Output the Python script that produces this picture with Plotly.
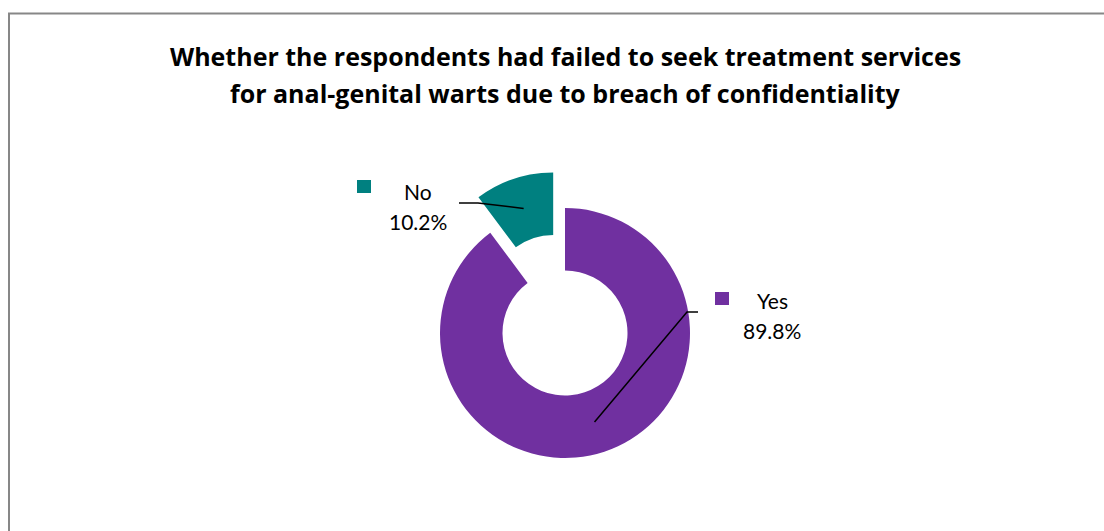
import math
import plotly.graph_objects as go

# Survey answers
labels = ["Yes", "No"]
values = [89.8, 10.2]
colors = ["#7030A0", "#008080"]
pulls = [0.0, 0.3]
hole = 0.5

title_lines = [
    "Whether the respondents had failed to seek treatment services",
    "for anal-genital warts due to breach of confidentiality",
]

W, H = 1104, 531
FONT = "Lato"
TITLE_FONT = "Open Sans"

# Donut placement in pixels
cx, cy, R = 565, 333, 125
box = 2 * R * (1 + max(pulls))


def px(x):
    return x / W


def py(y):
    return 1 - y / H


fig = go.Figure(
    go.Pie(
        labels=labels,
        values=values,
        marker=dict(colors=colors, line=dict(width=0)),
        hole=hole,
        pull=pulls,
        sort=False,
        direction="clockwise",
        rotation=0,
        textinfo="none",
        hoverinfo="label+percent",
        showlegend=False,
        domain=dict(
            x=[px(cx - box / 2), px(cx + box / 2)],
            y=[py(cy + box / 2), py(cy - box / 2)],
        ),
    )
)

# Label layout: text centre x, line centres y, legend key box, elbow
label_layout = {
    "Yes": dict(tx=772, ty=(299, 329), key=(715, 292),
                elbow=((687, 312), (698, 312))),
    "No": dict(tx=418, ty=(190, 221), key=(357, 180),
               elbow=((478, 203), (459, 203))),
}

shapes = []
annotations = []
total = sum(values)
cum = 0.0
for lab, val, col, pl in zip(labels, values, colors, pulls):
    t = 2 * math.pi * (cum + val / 2) / total
    cum += val
    dx, dy = math.sin(t), -math.cos(t)
    ocx, ocy = cx + pl * R * dx, cy + pl * R * dy
    rm = R * (1 + hole) / 2
    ax, ay = ocx + rm * dx, ocy + rm * dy
    lay = label_layout[lab]
    (ex, ey), (fx, fy) = lay["elbow"]
    shapes.append(dict(
        type="path", xref="paper", yref="paper",
        path=f"M {px(ax)},{py(ay)} L {px(ex)},{py(ey)} L {px(fx)},{py(fy)}",
        line=dict(color="black", width=1.5),
    ))
    kx, ky = lay["key"]
    shapes.append(dict(
        type="rect", xref="paper", yref="paper",
        x0=px(kx), x1=px(kx + 14), y0=py(ky + 13), y1=py(ky),
        fillcolor=col, line=dict(width=0),
    ))
    pct = val / total * 100
    for txt, yy in zip([lab, f"{pct:.1f}%"], lay["ty"]):
        annotations.append(dict(
            x=px(lay["tx"]), y=py(yy + 1), xref="paper", yref="paper",
            text=txt, showarrow=False, align="center",
            xanchor="center", yanchor="middle",
            font=dict(family=FONT, size=21, color="black"),
        ))

for i, line in enumerate(title_lines):
    annotations.append(dict(
        x=px(565), y=py(56 + 37 * i), xref="paper", yref="paper",
        text=f"<b>{line}</b>", showarrow=False,
        xanchor="center", yanchor="middle",
        font=dict(family=TITLE_FONT, size=25, color="black"),
    ))

# Chart frame
shapes.append(dict(
    type="rect", xref="paper", yref="paper",
    x0=px(9), x1=1.02, y0=-0.02, y1=py(13.5),
    line=dict(color="#878787", width=2), fillcolor="rgba(0,0,0,0)",
    layer="below",
))

fig.update_layout(
    width=W, height=H,
    margin=dict(l=0, r=0, t=0, b=0),
    paper_bgcolor="white", plot_bgcolor="white",
    shapes=shapes, annotations=annotations,
    font=dict(family=FONT),
)

fig.write_html("out.html")
